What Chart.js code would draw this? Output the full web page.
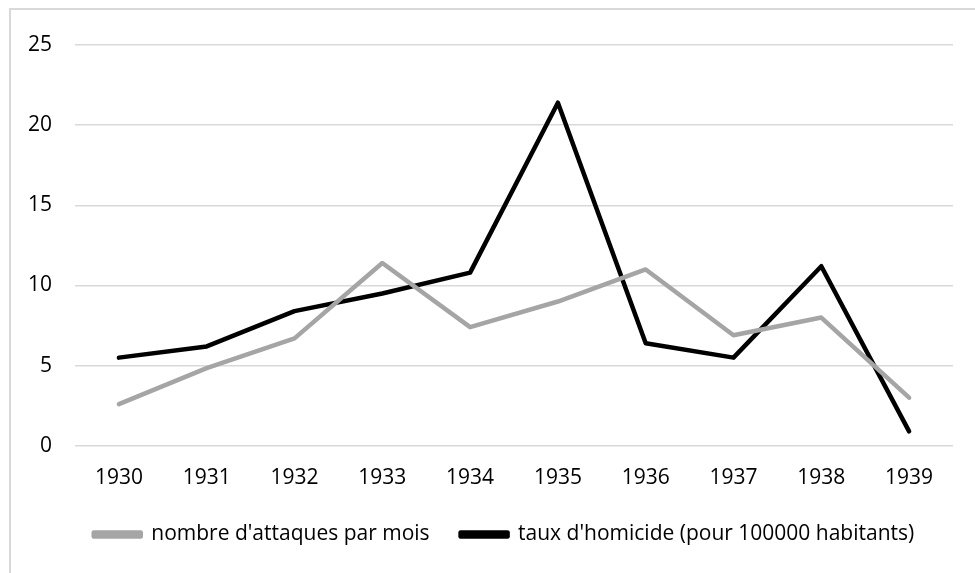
<!DOCTYPE html>
<html lang="fr">
<head>
<meta charset="UTF-8">
<title>Attaques et homicides 1930-1939</title>
<script src="https://cdn.jsdelivr.net/npm/chart.js"></script>
<style>
  html, body { margin: 0; padding: 0; background: #fff; overflow: hidden; }
  #frame { position: absolute; left: 9px; top: 8px; width: 1000px; height: 600px; border: 2px solid #d9d9d9; }
  #wrap { position: absolute; left: 0; top: 0; width: 975px; height: 573px; }
</style>
</head>
<body>
<div id="frame"></div>
<div id="wrap"><canvas id="myChart"></canvas></div>
<script>
// data
const years = ['1930', '1931', '1932', '1933', '1934', '1935', '1936', '1937', '1938', '1939'];
const attaques = [2.6, 4.85, 6.7, 11.4, 7.4, 9.0, 11.0, 6.9, 8.0, 3.0];
const homicides = [5.5, 6.2, 8.4, 9.5, 10.8, 21.4, 6.4, 5.5, 11.2, 0.9];
const yTicks = [0, 5, 10, 15, 20, 25];

Chart.defaults.font.family = '"Open Sans", "Noto Sans", sans-serif';
Chart.defaults.font.size = 21;
Chart.defaults.color = '#000';

// the legend sits centred under the plot area, not the whole canvas
const legendShift = {
  id: 'legendShift',
  afterUpdate(chart) {
    const lg = chart.legend;
    const dx = (chart.chartArea.left + chart.chartArea.right) / 2 - (lg.left + lg.right) / 2 - 10;
    lg.left += dx;
    lg.right += dx;
  }
};

const ctx = document.getElementById('myChart').getContext('2d');
new Chart(ctx, {
  type: 'line',
  data: {
    labels: years,
    datasets: [{
      label: "nombre d'attaques par mois",
      data: attaques,
      borderColor: '#a5a5a5',
      backgroundColor: '#a5a5a5',
      borderWidth: 4.5,
      pointRadius: 0,
      borderCapStyle: 'round',
      borderJoinStyle: 'round',
      tension: 0
    }, {
      label: "taux d'homicide (pour 100000 habitants)",
      data: homicides,
      borderColor: '#000',
      backgroundColor: '#000',
      borderWidth: 4.5,
      pointRadius: 0,
      borderCapStyle: 'round',
      borderJoinStyle: 'round',
      tension: 0
    }]
  },
  plugins: [legendShift],
  options: {
    responsive: true,
    maintainAspectRatio: false,
    animation: false,
    layout: { padding: { left: 0, right: 22, top: 45, bottom: 18 } },
    plugins: {
      tooltip: { enabled: false },
      legend: {
        position: 'bottom',
        labels: {
          boxWidth: 47,
          boxHeight: 4,
          padding: 31,
          color: '#000'
        }
      }
    },
    scales: {
      x: {
        offset: true,
        grid: { display: false },
        border: { display: false },
        ticks: { padding: 12 },
        afterFit: s => { s.height = s.height - 10; }
      },
      y: {
        min: 0,
        max: 25,
        afterBuildTicks: s => { s.ticks = yTicks.map(v => ({ value: v })); },
        afterFit: s => { s.width = 75; },
        grid: { color: '#d9d9d9', lineWidth: 1.5, drawTicks: false },
        border: { display: false },
        ticks: { padding: 23 }
      }
    }
  }
});
</script>
</body>
</html>
